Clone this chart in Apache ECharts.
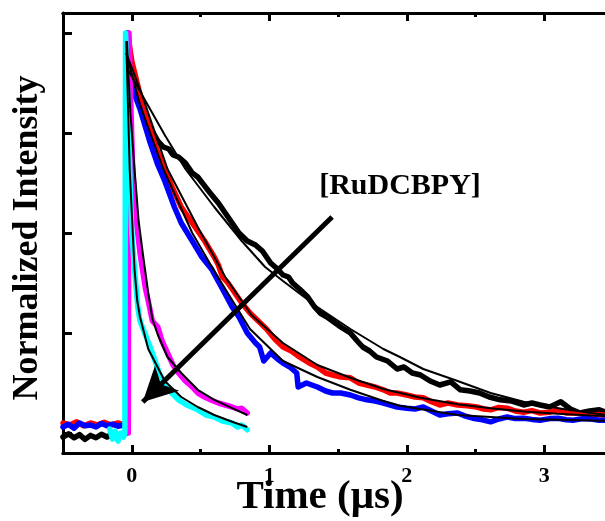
<!DOCTYPE html>
<html>
<head>
<meta charset="utf-8">
<script src="https://cdn.jsdelivr.net/npm/echarts@6/dist/echarts.min.js"></script>
<style>html,body{margin:0;padding:0;background:#fff}#c{width:605px;height:521px}</style>
</head>
<body>
<div id="c"></div>
<script>
// ---- data (time in µs, normalized intensity) ----
var xTickLabels = [0, 1, 2, 3];
var xMinorTicks = [-0.5, 0.5, 1.5, 2.5, 3.5];
var yTicks = [0, 0.25, 0.5, 0.75, 1];

var blackData = [[-0.5,-0.01],[-0.46,-0.002],[-0.42,-0.012],[-0.38,-0.004],[-0.34,-0.016],[-0.3,-0.006],[-0.26,-0.012],[-0.22,-0.003],[-0.18,-0.01],[-0.14,-0.002],[-0.1,-0.008],[-0.06,-0.004],[-0.04,0.0],[-0.03,0.95],[0.02,0.88],[0.08,0.82],[0.14,0.76],[0.19,0.73],[0.23,0.715],[0.27,0.71],[0.30,0.695],[0.34,0.69],[0.39,0.675],[0.44,0.65],[0.48,0.64],[0.52,0.622],[0.57,0.60],[0.63,0.575],[0.68,0.55],[0.73,0.525],[0.78,0.50],[0.84,0.48],[0.9,0.47],[0.95,0.455],[1.01,0.425],[1.06,0.41],[1.1,0.395],[1.14,0.39],[1.17,0.375],[1.22,0.36],[1.28,0.34],[1.33,0.315],[1.37,0.30],[1.42,0.29],[1.46,0.28],[1.52,0.265],[1.59,0.25],[1.64,0.23],[1.68,0.215],[1.73,0.205],[1.78,0.19],[1.82,0.185],[1.86,0.18],[1.93,0.16],[1.98,0.165],[2.04,0.15],[2.10,0.145],[2.17,0.13],[2.24,0.12],[2.32,0.128],[2.39,0.108],[2.46,0.105],[2.53,0.10],[2.6,0.09],[2.68,0.083],[2.76,0.08],[2.85,0.07],[2.91,0.075],[2.97,0.07],[3.04,0.065],[3.12,0.078],[3.19,0.06],[3.26,0.05],[3.33,0.055],[3.40,0.058],[3.46,0.05],[3.5,0.052]];
var redData = [[-0.5,0.025],[-0.45,0.02],[-0.4,0.028],[-0.35,0.018],[-0.3,0.025],[-0.25,0.02],[-0.2,0.027],[-0.15,0.02],[-0.1,0.025],[-0.05,0.02],[-0.035,0.03],[-0.03,1.0],[0.0,0.93],[0.05,0.86],[0.12,0.77],[0.18,0.71],[0.24,0.66],[0.30,0.61],[0.36,0.565],[0.41,0.54],[0.46,0.515],[0.53,0.48],[0.60,0.44],[0.63,0.42],[0.66,0.39],[0.7,0.375],[0.73,0.36],[0.80,0.325],[0.86,0.30],[0.92,0.28],[0.98,0.26],[1.04,0.235],[1.10,0.215],[1.16,0.205],[1.22,0.19],[1.29,0.175],[1.35,0.165],[1.41,0.15],[1.46,0.145],[1.52,0.14],[1.59,0.138],[1.65,0.125],[1.71,0.12],[1.77,0.115],[1.83,0.108],[1.88,0.10],[1.93,0.10],[2.0,0.095],[2.06,0.09],[2.12,0.088],[2.18,0.078],[2.24,0.07],[2.30,0.075],[2.37,0.07],[2.44,0.068],[2.51,0.065],[2.56,0.06],[2.61,0.058],[2.67,0.064],[2.73,0.062],[2.79,0.055],[2.85,0.052],[2.91,0.056],[2.97,0.05],[3.04,0.052],[3.10,0.058],[3.16,0.05],[3.21,0.05],[3.28,0.048],[3.34,0.045],[3.40,0.046],[3.5,0.042]];
var blueData = [[-0.5,0.015],[-0.46,0.022],[-0.42,0.012],[-0.38,0.025],[-0.34,0.018],[-0.3,0.02],[-0.26,0.015],[-0.22,0.024],[-0.18,0.018],[-0.14,0.022],[-0.1,0.017],[-0.06,0.02],[-0.04,0.02],[-0.03,1.0],[-0.015,0.88],[0.06,0.81],[0.13,0.73],[0.19,0.67],[0.24,0.63],[0.31,0.565],[0.36,0.525],[0.44,0.48],[0.51,0.44],[0.58,0.41],[0.66,0.36],[0.73,0.315],[0.78,0.29],[0.84,0.25],[0.9,0.225],[0.93,0.215],[0.96,0.18],[1.01,0.20],[1.06,0.185],[1.10,0.175],[1.15,0.165],[1.20,0.15],[1.21,0.115],[1.27,0.125],[1.35,0.115],[1.41,0.105],[1.46,0.10],[1.52,0.1],[1.59,0.095],[1.65,0.088],[1.71,0.083],[1.77,0.08],[1.83,0.075],[1.88,0.07],[1.93,0.065],[2.0,0.062],[2.06,0.06],[2.12,0.065],[2.18,0.055],[2.24,0.045],[2.30,0.048],[2.37,0.05],[2.42,0.043],[2.48,0.037],[2.55,0.033],[2.61,0.028],[2.67,0.035],[2.73,0.04],[2.79,0.036],[2.85,0.037],[2.91,0.034],[2.97,0.032],[3.04,0.036],[3.10,0.037],[3.16,0.033],[3.21,0.032],[3.28,0.036],[3.34,0.035],[3.40,0.032],[3.5,0.032]];
var magentaData = [[-0.06,0.0],[-0.025,0.0],[-0.02,1.0],[-0.005,0.8],[0.007,0.66],[0.03,0.54],[0.06,0.45],[0.1,0.36],[0.12,0.33],[0.15,0.28],[0.19,0.265],[0.22,0.23],[0.26,0.20],[0.3,0.17],[0.34,0.15],[0.39,0.13],[0.44,0.115],[0.48,0.1],[0.53,0.09],[0.58,0.082],[0.63,0.075],[0.68,0.07],[0.73,0.065],[0.77,0.06],[0.80,0.062],[0.84,0.05]];
var cyanData = [[-0.16,0.01],[-0.14,-0.015],[-0.12,0.005],[-0.1,-0.02],[-0.08,0.0],[-0.06,-0.01],[-0.05,0.0],[-0.045,1.0],[-0.025,0.8],[-0.015,0.66],[0.0,0.5],[0.02,0.41],[0.044,0.315],[0.06,0.28],[0.1,0.245],[0.15,0.2],[0.2,0.15],[0.24,0.125],[0.29,0.1],[0.34,0.083],[0.4,0.07],[0.48,0.058],[0.54,0.045],[0.60,0.04],[0.66,0.03],[0.73,0.025],[0.77,0.015],[0.8,0.02],[0.84,0.008]];

var blackFit = [[-0.03,0.91],[0.1,0.83],[0.24,0.745],[0.39,0.66],[0.6,0.565],[0.8,0.48],[0.97,0.415],[1.1,0.38],[1.35,0.315],[1.59,0.26],[1.83,0.21],[1.95,0.19],[2.12,0.16],[2.37,0.13],[2.61,0.10],[2.85,0.078],[3.1,0.062],[3.34,0.05],[3.5,0.043]];
var redFit = [[-0.04,0.95],[0.07,0.85],[0.26,0.66],[0.48,0.515],[0.68,0.39],[0.87,0.295],[1.1,0.225],[1.35,0.17],[1.59,0.138],[1.83,0.11],[2.1,0.088],[2.37,0.072],[2.61,0.062],[2.85,0.054],[3.1,0.048],[3.34,0.044],[3.5,0.042]];
var blueFit = [[-0.04,0.95],[0.06,0.82],[0.23,0.66],[0.44,0.5],[0.6,0.405],[0.77,0.31],[0.86,0.26],[1.1,0.18],[1.35,0.14],[1.59,0.108],[1.83,0.08],[1.95,0.068],[2.37,0.045],[2.85,0.035],[3.5,0.03]];
var magentaFit = [[-0.035,0.98],[-0.01,0.8],[0.02,0.66],[0.05,0.53],[0.08,0.45],[0.12,0.35],[0.15,0.285],[0.19,0.245],[0.26,0.19],[0.36,0.15],[0.48,0.108],[0.6,0.083],[0.73,0.062],[0.84,0.045]];
var cyanFit = [[-0.04,0.98],[-0.015,0.66],[0.02,0.41],[0.04,0.33],[0.06,0.29],[0.12,0.21],[0.24,0.13],[0.36,0.09],[0.48,0.065],[0.6,0.045],[0.73,0.028],[0.84,0.015]];

var arrowStart = [1.457, 0.54];
var arrowEnd = [0.08, 0.0775];

// ---- chart ----
var FONT = '"Liberation Serif", "Times New Roman", serif';
var chart = echarts.init(document.getElementById('c'), null, {renderer: 'canvas'});

function dataSeries(d, color) {
  return {type: 'line', data: d, showSymbol: false, symbol: 'none', animation: false, silent: true,
    lineStyle: {color: color, width: 5.5, join: 'round', cap: 'round'}, z: 2};
}
function fitSeries(d) {
  return {type: 'line', data: d, showSymbol: false, symbol: 'none', animation: false, silent: true,
    lineStyle: {color: '#000', width: 2}, z: 3};
}
function xAx(pos, major, labels) {
  return {
    type: 'value', position: pos, min: -0.5, max: 3.5, offset: 0,
    axisLine: {show: true, onZero: false, lineStyle: {color: '#000', width: 3}},
    axisTick: {show: true, inside: true, length: major ? 8 : 4, customValues: major ? xTickLabels : xMinorTicks,
      lineStyle: {color: '#000', width: 3}},
    axisLabel: labels ? {show: true, customValues: xTickLabels, color: '#000', fontFamily: FONT, fontWeight: 'bold', fontSize: 22, margin: 12} : {show: false},
    splitLine: {show: false}
  };
}

var option = {
  backgroundColor: '#fff',
  animation: false,
  grid: {left: 63, top: 13, right: -8, bottom: 68, containLabel: false, outerBoundsMode: 'none', show: false},
  xAxis: [xAx('bottom', true, true), xAx('top', true, false), xAx('bottom', false, false), xAx('top', false, false)],
  yAxis: [{
    type: 'value', position: 'left', min: -0.05, max: 1.05,
    axisLine: {show: true, onZero: false, lineStyle: {color: '#000', width: 3}},
    axisTick: {show: true, inside: true, length: 9, customValues: yTicks, lineStyle: {color: '#000', width: 3}},
    axisLabel: {show: false}, splitLine: {show: false}
  }],
  series: [
    dataSeries(blackData, '#000000'),
    dataSeries(redData, '#ff0000'),
    dataSeries(blueData, '#0000ff'),
    dataSeries(magentaData, '#ff00ff'),
    dataSeries(cyanData, '#00ffff'),
    fitSeries(blackFit),
    fitSeries(redFit),
    fitSeries(blueFit),
    fitSeries(magentaFit),
    Object.assign(fitSeries(cyanFit), {
      markLine: {
        silent: true, animation: false, symbol: ['none', 'arrow'], symbolSize: [26, 34],
        lineStyle: {color: '#000', width: 5, type: 'solid'}, label: {show: false},
        data: [[{coord: arrowStart}, {coord: arrowEnd}]]
      }
    })
  ],
  graphic: [
    {type: 'text', x: 28, y: 238, rotation: Math.PI / 2, silent: true,
      style: {text: 'Normalized Intensity', fill: '#000', font: 'bold 36px ' + FONT, align: 'center', verticalAlign: 'middle'}},
    {type: 'text', x: 320, y: 497, silent: true,
      style: {text: 'Time (\u03bcs)', fill: '#000', font: 'bold 41px ' + FONT, align: 'center', verticalAlign: 'middle'}},
    {type: 'text', x: 400, y: 186, silent: true,
      style: {text: '[RuDCBPY]', fill: '#000', font: 'bold 30px ' + FONT, align: 'center', verticalAlign: 'middle'}}
  ]
};
chart.setOption(option);
</script>
</body>
</html>
